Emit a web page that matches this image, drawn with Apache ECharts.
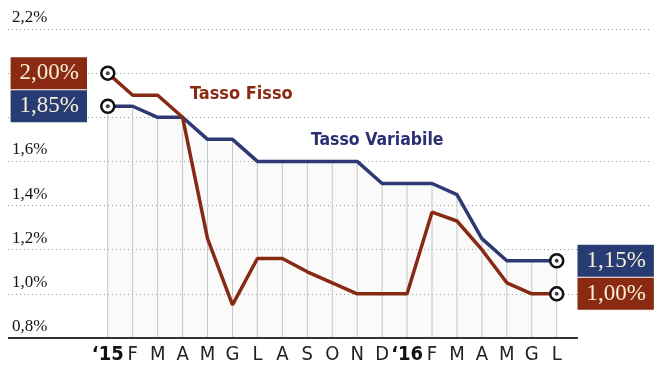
<!DOCTYPE html>
<html><head><meta charset="utf-8">
<script src="https://cdn.jsdelivr.net/npm/echarts@6/dist/echarts.min.js"></script>
<style>html,body{margin:0;padding:0;background:#fff}#c{width:657px;height:365px}</style>
</head><body><div id="c"></div>
<script>
const categories = ["‘15","F","M","A","M","G","L","A","S","O","N","D","‘16","F","M","A","M","G","L"];
const tassoFisso = [2.00,1.90,1.90,1.80,1.25,0.95,1.16,1.16,1.10,1.05,1.00,1.00,1.00,1.37,1.33,1.20,1.05,1.00,1.00];
const tassoVariabile = [1.85,1.85,1.80,1.80,1.70,1.70,1.60,1.60,1.60,1.60,1.60,1.50,1.50,1.50,1.45,1.25,1.15,1.15,1.15];
const yTicks = [0.8,1.0,1.2,1.4,1.6,1.8,2.0,2.2];
const hiddenYTicks = [1.8,2.0];

const RED = '#862a13', BLUE = '#2f3a74', LRED = '#8b2a12', LBLUE = '#263c72';
const fmt = v => v.toFixed(2).replace('.', ',') + '%';
const last = categories.length - 1;

function boxLabel(pos, bg, v) {
  return {show:true, position:pos, distance:13, formatter: fmt(v), backgroundColor:bg,
    color:'#f7eed8', fontFamily:'Liberation Serif, DejaVu Serif, serif', fontSize:23,
    lineHeight:24, padding:[4,8,4,9]};
}
function endItem(i, v, pos, bg) {
  return {value:[i, v], symbol:'circle', symbolSize:13,
    itemStyle:{color:'#fff', borderColor:'#111', borderWidth:2.5},
    label: boxLabel(pos, bg, v)};
}
function build(arr, bg) {
  return arr.map((v, i) => {
    if (i === 0) return endItem(i, v, 'left', bg);
    if (i === last) return endItem(i, v, 'right', bg);
    return {value:[i, v]};
  });
}

const chart = echarts.init(document.getElementById('c'));
chart.setOption({
  backgroundColor:'#fff',
  animation:false,
  grid:{left:8, right:7, top:29, bottom:27},
  xAxis:{type:'value', min:-4, max:21.74, interval:1,
    axisLine:{show:false}, axisTick:{show:false}, splitLine:{show:false},
    axisLabel:{margin:7, color:'#222', fontFamily:'Liberation Sans Narrow, DejaVu Sans Condensed, sans-serif', fontSize:20,
      showMinLabel:true, showMaxLabel:false,
      formatter: v => { const s = categories[v]; if (s === undefined) return ''; return s.startsWith('‘') ? '{b|' + s + '}' : s; },
      rich:{b:{fontWeight:'bold', fontSize:20, color:'#111', fontFamily:'Liberation Sans Narrow, DejaVu Sans Condensed, sans-serif'}}}},
  yAxis:{type:'value', min:yTicks[0], max:yTicks[yTicks.length-1], interval:0.2,
    axisLine:{show:false}, axisTick:{show:false},
    splitLine:{show:true, showMinLine:false, lineStyle:{color:'#9a9a9a', type:[1,3], width:1}},
    axisLabel:{inside:true, margin:4, align:'left', verticalAlign:'bottom', padding:[0,0,3,0],
      color:'#151515', fontFamily:'Liberation Serif, DejaVu Serif, serif', fontSize:17,
      formatter: v => hiddenYTicks.some(h => Math.abs(h - v) < 1e-6) ? '' : v.toFixed(1).replace('.', ',') + '%'}},
  graphic:[
    {type:'text', left:190, top:85, style:{text:'Tasso Fisso', fill:LRED, font:'bold 18px "Liberation Sans Narrow", "DejaVu Sans Condensed", sans-serif'}},
    {type:'text', left:311, top:131, style:{text:'Tasso Variabile', fill:'#2b2f73', font:'bold 17.5px "Liberation Sans Narrow", "DejaVu Sans Condensed", sans-serif'}}
  ],
  series:[
    {type:'custom', silent:true, z:1,
      data: tassoVariabile.map((v, i) => [i, v]),
      renderItem:(params, api) => {
        const x = api.value(0), top = api.value(1);
        const p0 = api.coord([x, yTicks[0]]), p1 = api.coord([x, top]);
        return {type:'line', shape:{x1:p0[0], y1:p0[1], x2:p1[0], y2:p1[1]}, style:{stroke:'#c6c6c6', lineWidth:1}};
      }},
    {type:'line', name:'Tasso Variabile', z:3, symbol:'none', showAllSymbol:true,
      lineStyle:{color:BLUE, width:3.5}, itemStyle:{color:BLUE},
      areaStyle:{color:'rgba(200,200,200,0.12)'},
      data: build(tassoVariabile, LBLUE)},
    {type:'line', name:'Tasso Fisso', z:4, symbol:'none', showAllSymbol:true,
      lineStyle:{color:RED, width:3.5}, itemStyle:{color:RED},
      data: build(tassoFisso, LRED),
      markLine:{silent:true, symbol:'none', label:{show:false},
        lineStyle:{color:'#333', width:2, type:'solid'},
        data:[[{coord:[-4, yTicks[0]]}, {coord:[18.85, yTicks[0]]}]]}},
    {type:'scatter', z:6, silent:true, symbolSize:4, itemStyle:{color:'#111'},
      data:[[0, tassoFisso[0]], [last, tassoFisso[last]], [0, tassoVariabile[0]], [last, tassoVariabile[last]]]}
  ]
});
</script></body></html>
